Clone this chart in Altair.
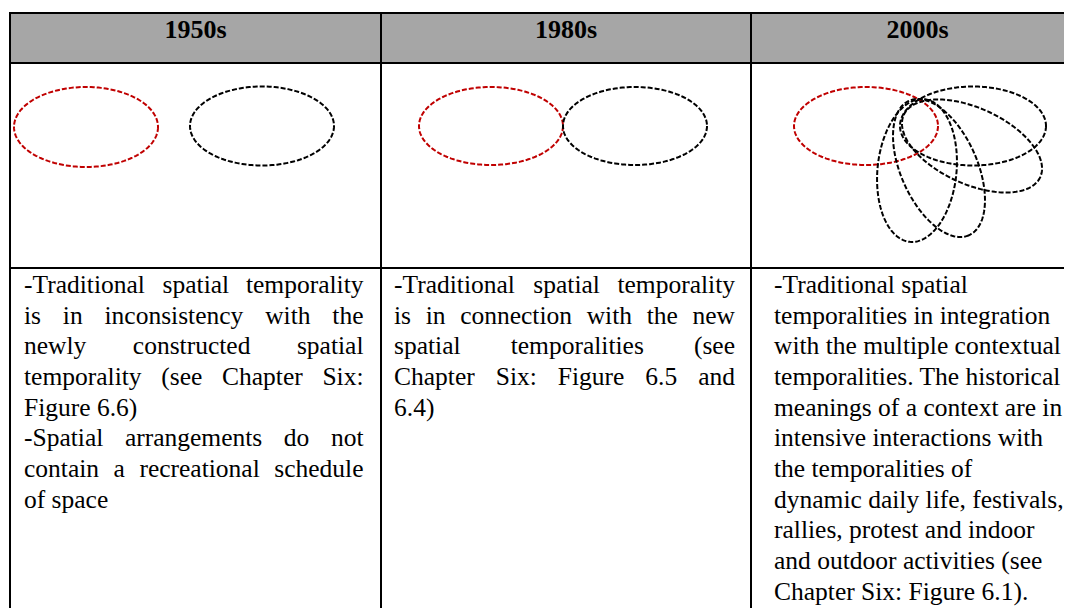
import math
import numpy as np
import pandas as pd
import altair as alt

# ---------------- content ----------------
decades = ["1950s", "1980s", "2000s"]

col1_lines = [
    "-Traditional spatial temporality",
    "is in inconsistency with the",
    "newly constructed spatial",
    "temporality (see Chapter Six:",
    "Figure 6.6)",
    "-Spatial arrangements do not",
    "contain a recreational schedule",
    "of space",
]
col1_justify = [True, True, True, True, False, True, True, False]

col2_lines = [
    "-Traditional spatial temporality",
    "is in connection with the new",
    "spatial temporalities (see",
    "Chapter Six: Figure 6.5 and",
    "6.4)",
]
col2_justify = [True, True, True, True, False]

col3_lines = [
    "-Traditional spatial",
    "temporalities in integration",
    "with the multiple contextual",
    "temporalities. The historical",
    "meanings of a context are in",
    "intensive interactions with",
    "the temporalities of",
    "dynamic daily life, festivals,",
    "rallies, protest and indoor",
    "and outdoor activities (see",
    "Chapter Six: Figure 6.1).",
]
col3_justify = [False] * len(col3_lines)

# ellipses (page pixels)
ell_panel = ["1950s", "1950s", "1980s", "1980s", "2000s", "2000s", "2000s", "2000s", "2000s"]
ell_kind = ["traditional", "new", "traditional", "new", "traditional", "new", "new", "new", "new"]
ell_cx = [86, 262, 491, 635, 866, 973, 972, 917, 939]
ell_cy = [127, 126, 126, 126, 126, 126, 146, 170.5, 168]
ell_rx = [72, 72, 72, 72, 72, 73, 75, 71.7, 73.6]
ell_ry = [40, 39.5, 39, 39, 39, 39.5, 38, 39.5, 38.2]
ell_angle = [0, 0, 0, 0, 0, 0, 24.5, -84.3, 66]

# ---------------- layout ----------------
COL_EDGES = [10, 381, 751, 1084]
ROW_LINES = [13, 63, 268]
FAR_RIGHT = 1200
FAR_BOTTOM = 700
HEADER_BASE = 38
TEXT_BASE = 293
LINE_H = 30.65
FS = 25.5
HFS = 26
TEXT_L = [24, 394, 774]
TEXT_R = [363.5, 735, 1070]
FONT = "Times New Roman, Liberation Serif, Times, serif"
RED = "#C00000"
GREY = "#A6A6A6"

W, H = 1056, 600
xs = alt.Scale(domain=[8, 8 + W], range=[0, W])
ys = alt.Scale(domain=[8, 8 + H], range=[0, H])

# Times New Roman advance widths (1/1000 em)
TW = {
    " ": 250, "-": 333, "(": 333, ")": 333, ",": 250, ".": 250, ":": 278,
    "0": 500, "1": 500, "2": 500, "3": 500, "4": 500, "5": 500, "6": 500,
    "7": 500, "8": 500, "9": 500,
    "A": 722, "B": 667, "C": 667, "D": 722, "E": 611, "F": 556, "G": 722,
    "H": 722, "I": 333, "J": 389, "K": 722, "L": 611, "M": 889, "N": 722,
    "O": 722, "P": 556, "Q": 722, "R": 667, "S": 556, "T": 611, "U": 722,
    "V": 722, "W": 944, "X": 722, "Y": 722, "Z": 611,
    "a": 444, "b": 500, "c": 444, "d": 500, "e": 444, "f": 333, "g": 500,
    "h": 500, "i": 278, "j": 278, "k": 500, "l": 278, "m": 778, "n": 500,
    "o": 500, "p": 500, "q": 500, "r": 333, "s": 389, "t": 278, "u": 500,
    "v": 500, "w": 722, "x": 500, "y": 500, "z": 444,
}


def wwidth(word):
    return sum(TW.get(c, 500) for c in word) / 1000.0 * FS


words = []
for ci, (lines, just) in enumerate([(col1_lines, col1_justify),
                                     (col2_lines, col2_justify),
                                     (col3_lines, col3_justify)]):
    L, R = TEXT_L[ci], TEXT_R[ci]
    for li, (line, j) in enumerate(zip(lines, just)):
        y = TEXT_BASE + li * LINE_H
        if j:
            parts = line.split(" ")
            widths = [wwidth(p) for p in parts]
            gap = (R - L - sum(widths)) / (len(parts) - 1)
            x = L
            for p, w in zip(parts, widths):
                words.append({"x": x, "y": y, "t": p})
                x += w + gap
        else:
            words.append({"x": L, "y": y, "t": line})
words_df = pd.DataFrame(words)

# header
hdr_df = pd.DataFrame({
    "t": decades,
    "x": [(COL_EDGES[i] + COL_EDGES[i + 1]) / 2 for i in range(3)],
    "y": [HEADER_BASE] * 3,
})
hdr_rect = pd.DataFrame({"x": [COL_EDGES[0]], "x2": [FAR_RIGHT],
                         "y": [ROW_LINES[0]], "y2": [ROW_LINES[1]]})

# borders
rules = []
for yv in ROW_LINES:
    rules.append({"x": COL_EDGES[0] - 1, "x2": FAR_RIGHT, "y": yv, "y2": yv})
for xv in COL_EDGES[:3]:
    rules.append({"x": xv, "x2": xv, "y": ROW_LINES[0] - 1, "y2": FAR_BOTTOM})
rules_df = pd.DataFrame(rules)

# ellipse outlines
rows = []
ts = np.linspace(0, 2 * np.pi, 181)
for k in range(len(ell_cx)):
    th = math.radians(ell_angle[k])
    for i, t in enumerate(ts):
        ex = ell_rx[k] * math.cos(t)
        ey = ell_ry[k] * math.sin(t)
        rows.append({
            "id": k, "i": i, "kind": ell_kind[k], "panel": ell_panel[k],
            "x": ell_cx[k] + ex * math.cos(th) - ey * math.sin(th),
            "y": ell_cy[k] + ex * math.sin(th) + ey * math.cos(th),
        })
ell_df = pd.DataFrame(rows)

rect = alt.Chart(hdr_rect).mark_rect(color=GREY).encode(
    x=alt.X("x:Q", scale=xs, axis=None), x2="x2",
    y=alt.Y("y:Q", scale=ys, axis=None), y2="y2")

borders = alt.Chart(rules_df).mark_rule(color="black", strokeWidth=2).encode(
    x=alt.X("x:Q", scale=xs, axis=None), x2="x2",
    y=alt.Y("y:Q", scale=ys, axis=None), y2="y2")

ellipses = alt.Chart(ell_df).mark_line(strokeWidth=2, strokeDash=[5, 2]).encode(
    x=alt.X("x:Q", scale=xs, axis=None),
    y=alt.Y("y:Q", scale=ys, axis=None),
    detail="id:N",
    order="i:Q",
    color=alt.Color("kind:N", scale=alt.Scale(domain=["traditional", "new"],
                                              range=[RED, "black"]), legend=None),
)

headers = alt.Chart(hdr_df).mark_text(font=FONT, fontSize=HFS, fontWeight="bold",
                                      align="center", baseline="alphabetic",
                                      color="black").encode(
    x=alt.X("x:Q", scale=xs, axis=None),
    y=alt.Y("y:Q", scale=ys, axis=None),
    text="t:N")

body = alt.Chart(words_df).mark_text(font=FONT, fontSize=FS, align="left",
                                     baseline="alphabetic", color="black").encode(
    x=alt.X("x:Q", scale=xs, axis=None),
    y=alt.Y("y:Q", scale=ys, axis=None),
    text="t:N")

chart = alt.layer(rect, ellipses, borders, headers, body).properties(
    width=W, height=H, padding=0,
    autosize=alt.AutoSizeParams(type="none"),
    background="white",
).configure_view(strokeWidth=0)

chart.save("out.html", embed_options={"renderer": "svg", "actions": False})
